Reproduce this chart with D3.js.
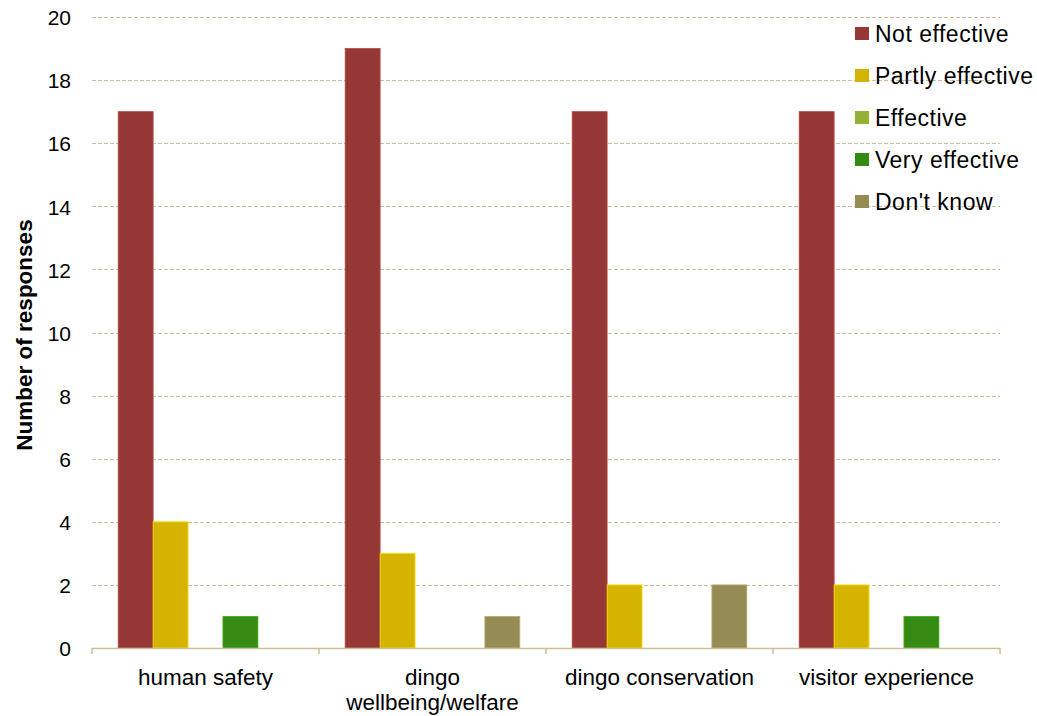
<!DOCTYPE html>
<html>
<head>
<meta charset="utf-8">
<script src="https://cdn.jsdelivr.net/npm/d3@7"></script>
<style>
  html, body { margin: 0; padding: 0; background: #fff; }
  svg { display: block; font-family: "Liberation Sans", Arial, sans-serif; }
</style>
</head>
<body>
<svg id="chart" width="1037" height="716"></svg>
<script>
// Survey: perceived effectiveness of dingo management, by goal
const categories = ["human safety", "dingo wellbeing/welfare", "dingo conservation", "visitor experience"];
const categoryLines = [["human safety"], ["dingo", "wellbeing/welfare"], ["dingo conservation"], ["visitor experience"]];
const seriesNames = ["Not effective", "Partly effective", "Effective", "Very effective", "Don't know"];
const notEffective    = [17, 19, 17, 17];
const partlyEffective = [4, 3, 2, 2];
const effective       = [0, 0, 0, 0];
const veryEffective   = [1, 0, 0, 1];
const dontKnow        = [0, 1, 2, 0];
const seriesColors = ["#953735", "#D4B400", "#92B135", "#348A12", "#958B55"];
const yTicks = [0, 2, 4, 6, 8, 10, 12, 14, 16, 18, 20];

const seriesValues = [notEffective, partlyEffective, effective, veryEffective, dontKnow];

const svg = d3.select("#chart");
const plotLeft = 92, plotRight = 1000, plotTop = 17, plotBottom = 648;

const x0 = d3.scaleBand().domain(categories).range([plotLeft, plotRight]).paddingInner(0).paddingOuter(0);
const y = d3.scaleLinear().domain([0, 20]).range([plotBottom, plotTop]);

// Bars take 5 of 6.5 slots per band (150% gap)
const bw = x0.bandwidth();
const barW = bw / 6.5;
const x1 = d3.scaleBand().domain(seriesNames)
  .range([barW * 0.75, barW * 5.75]).paddingInner(0).paddingOuter(0);

// Gridlines
const gridColor = "#C9BF99";
svg.append("g").selectAll("line")
  .data(yTicks.filter(t => t > 0))
  .join("line")
  .attr("x1", plotLeft).attr("x2", plotRight)
  .attr("y1", d => Math.round(y(d)) + 0.5).attr("y2", d => Math.round(y(d)) + 0.5)
  .attr("stroke", gridColor).attr("stroke-width", 1.2)
  .attr("stroke-dasharray", "4,2");

// Y tick labels
const yAxis = d3.axisLeft(y).tickValues(yTicks).tickSize(0).tickPadding(0).tickFormat(d3.format("d"));
const yg = svg.append("g").attr("transform", `translate(${plotLeft - 21},1)`).call(yAxis);
yg.select(".domain").remove();
yg.selectAll("text").attr("font-size", 21).attr("fill", "#000")
  .attr("font-family", "Liberation Sans, Arial, sans-serif");

// Y axis title
svg.append("text")
  .attr("transform", `translate(32,335) rotate(-90)`)
  .attr("text-anchor", "middle")
  .attr("font-size", 22.5).attr("font-weight", "bold")
  .text("Number of responses");

// Bars
const groups = svg.append("g").selectAll("g")
  .data(categories)
  .join("g")
  .attr("transform", d => `translate(${x0(d)},0)`);

groups.selectAll("rect")
  .data((c, ci) => seriesNames.map((s, si) => ({ s, si, v: seriesValues[si][ci] })).filter(d => d.v > 0))
  .join("rect")
  .attr("x", d => x1(d.s))
  .attr("y", d => y(d.v))
  .attr("width", x1.bandwidth())
  .attr("height", d => y(0) - y(d.v))
  .attr("fill", d => seriesColors[d.si])
  .attr("stroke", d => d3.color(seriesColors[d.si]).brighter(0.6))
  .attr("stroke-width", 0.8);

// X axis line and category tick marks
const axisColor = "#C9BF99";
svg.append("line")
  .attr("x1", plotLeft).attr("x2", plotRight)
  .attr("y1", plotBottom + 0.5).attr("y2", plotBottom + 0.5)
  .attr("stroke", axisColor).attr("stroke-width", 1.5);
const boundaries = categories.map(c => x0(c)).concat([plotRight]);
svg.append("g").selectAll("line")
  .data(boundaries)
  .join("line")
  .attr("x1", d => d).attr("x2", d => d)
  .attr("y1", plotBottom).attr("y2", plotBottom + 6)
  .attr("stroke", axisColor).attr("stroke-width", 1.5);

// Category labels
const xl = svg.append("g").selectAll("text")
  .data(categories)
  .join("text")
  .attr("x", d => x0(d) + bw / 2)
  .attr("y", 685)
  .attr("text-anchor", "middle")
  .attr("font-size", 22.5);
xl.each(function(d, i) {
  const t = d3.select(this);
  categoryLines[i].forEach((line, li) => {
    t.append("tspan").attr("x", x0(d) + bw / 2).attr("dy", li === 0 ? 0 : 25).text(line);
  });
});

// Legend
const legend = svg.append("g").selectAll("g")
  .data(seriesNames)
  .join("g")
  .attr("transform", (d, i) => `translate(855,${33 + i * 42})`);
legend.append("rect")
  .attr("x", 0).attr("y", -6).attr("width", 14).attr("height", 13)
  .attr("fill", (d, i) => seriesColors[i]);
legend.append("text")
  .attr("x", 20).attr("y", 9)
  .attr("font-size", 23)
  .attr("letter-spacing", 0.5)
  .text(d => d);
</script>
</body>
</html>
